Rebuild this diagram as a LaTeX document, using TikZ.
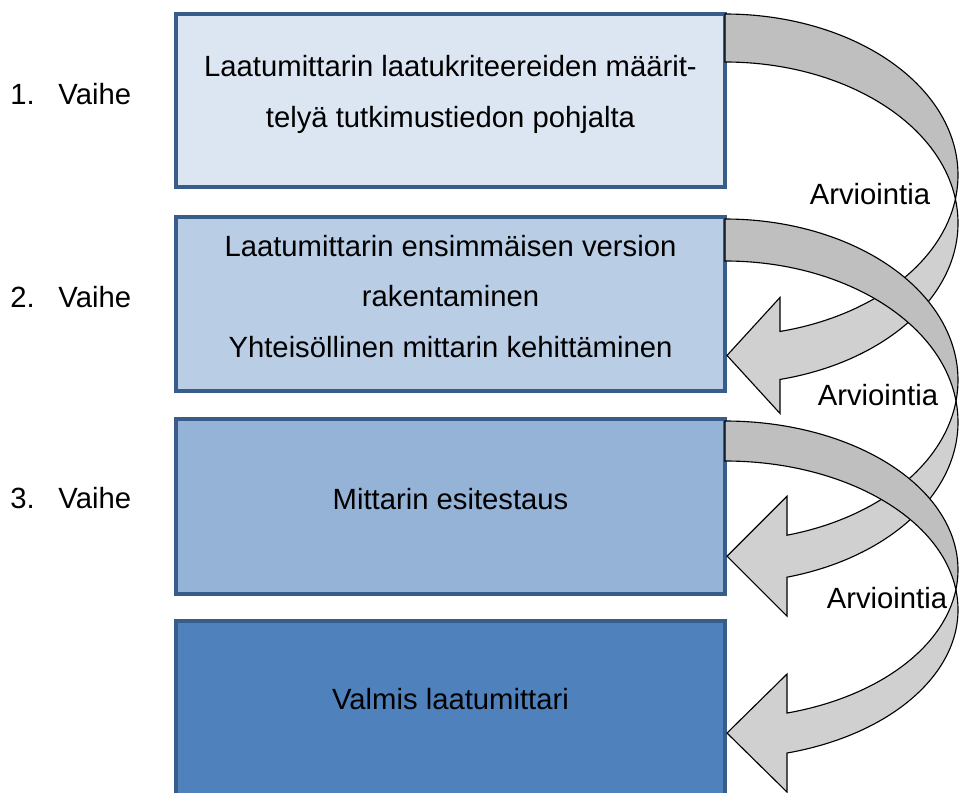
\documentclass[tikz,border=0pt]{standalone}
\usepackage{fontspec}
\setmainfont{Liberation Sans}

\definecolor{stageA}{HTML}{DCE6F2}
\definecolor{stageB}{HTML}{B9CDE5}
\definecolor{stageC}{HTML}{95B3D7}
\definecolor{stageD}{HTML}{4F81BD}
\definecolor{stageLine}{HTML}{385D8A}
\definecolor{loopFront}{HTML}{BFBFBF}
\definecolor{loopBack}{HTML}{D0D0D0}

\tikzset{
    stage/.style={draw=stageLine, line width=3.2pt, minimum width=13.725cm, inner sep=0pt},
    txt/.style={font=\fontsize{20.8pt}{35.6pt}\selectfont, align=center, inner sep=0pt},
    loopline/.style={draw=black, line width=0.8pt, line join=miter}
}

% curved arrow: #1 tail top, #2 thickness, #3 y radius, #4 head back x, #5 half head
\newcommand{\loopArrow}[5]{
    \pgfmathsetmacro{\cA}{-(#1)-(#3)}
    \pgfmathsetmacro{\ang}{asin((#2)/2/(#3))}
    \pgfmathsetmacro{\bang}{-acos(((#4)-725)/233)}
    \pgfmathsetmacro{\yA}{\cA+(#3)*sin(\bang)}
    \pgfmathsetmacro{\yB}{\yA-(#2)}
    \pgfmathsetmacro{\ym}{\yA-(#2)/2}
    \pgfmathsetmacro{\px}{725+233*cos(\ang)}
    \pgfmathsetmacro{\py}{\cA-(#2)/2}
    \filldraw[loopline, fill=loopBack] (\px,\py)
        arc[start angle=\ang, end angle=\bang, x radius=233, y radius=#3]
        -- (#4,\ym-#5) -- (727,\ym) -- (#4,\ym+#5) -- (#4,\yA)
        arc[start angle=\bang, end angle=-\ang, x radius=233, y radius=#3] -- cycle;
    \filldraw[loopline, fill=loopFront] (725,-#1)
        arc[start angle=90, end angle=-\ang, x radius=233, y radius=#3]
        arc[start angle=\ang, end angle=90, x radius=233, y radius=#3] -- cycle;
}

\begin{document}
\begin{tikzpicture}[x=0.025cm, y=0.025cm]
    \clip (0,0) rectangle (961,-792);

    \node[stage, fill=stageA, minimum height=4.325cm] (b1) at (450.5,-100.5) {};
    \node[stage, fill=stageB, minimum height=4.35cm] (b2) at (450.5,-304) {};
    \node[stage, fill=stageC, minimum height=4.375cm] (b3) at (450.5,-506.5) {};
    \node[stage, fill=stageD, minimum height=4.4cm] (b4) at (450.5,-709) {};

    % base = last line
    \node[txt, anchor=base] (t1) at (450.5,-127) {Laatumittarin laatukriteereiden määrit-\\telyä tutkimustiedon pohjalta};
    \node[txt, anchor=base] (t2) at (450.5,-357) {Laatumittarin ensimmäisen version\\rakentaminen\\Yhteisöllinen mittarin kehittäminen};
    \node[txt, anchor=base] (t3) at (450.5,-509) {Mittarin esitestaus};
    \node[txt, anchor=base] (t4) at (450.5,-709) {Valmis laatumittari};

    \node[txt, anchor=base west] (v1) at (10,-104) {1.\hspace{16.9pt}Vaihe};
    \node[txt, anchor=base west] (v2) at (10,-307) {2.\hspace{16.9pt}Vaihe};
    \node[txt, anchor=base west] (v3) at (10,-508) {3.\hspace{16.9pt}Vaihe};

    \loopArrow{14}{48}{161}{780}{58}
    \loopArrow{219}{42}{161}{787}{60}
    \loopArrow{421}{40}{148.7}{787}{59}

    \node[txt, anchor=base] (a1) at (870,-204) {Arviointia};
    \node[txt, anchor=base] (a2) at (878,-405) {Arviointia};
    \node[txt, anchor=base] (a3) at (887,-608) {Arviointia};
\end{tikzpicture}
\end{document}
